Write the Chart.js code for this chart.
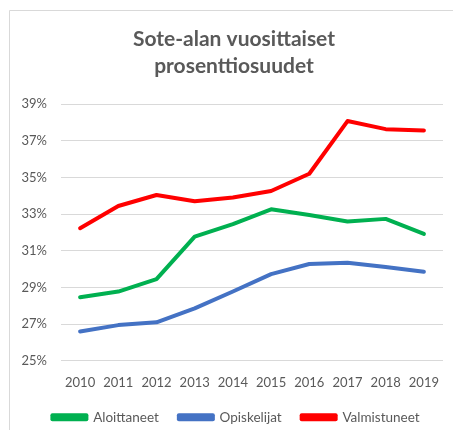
<!DOCTYPE html>
<html>
<head>
<meta charset="utf-8">
<script src="https://cdn.jsdelivr.net/npm/chart.js@4/dist/chart.umd.min.js"></script>
<style>
html,body{margin:0;padding:0;background:#fff;}
#wrap{position:relative;width:453px;height:430px;}
canvas{display:block;}
</style>
</head>
<body>
<div id="wrap"><canvas id="c" width="453" height="430"></canvas></div>
<script>
const categories = ['2010','2011','2012','2013','2014','2015','2016','2017','2018','2019'];
const aloittaneet = [28.47, 28.78, 29.46, 31.77, 32.45, 33.26, 32.95, 32.6, 32.74, 31.92];
const opiskelijat = [26.6, 26.95, 27.1, 27.86, 28.78, 29.73, 30.28, 30.35, 30.12, 29.86];
const valmistuneet = [32.23, 33.44, 34.04, 33.7, 33.9, 34.26, 35.2, 38.07, 37.63, 37.56];
const yTicks = [25, 27, 29, 31, 33, 35, 37, 39];
const titleLines = ['Sote-alan vuosittaiset', 'prosenttiosuudet'];

const borderPlugin = {
  id: 'frame',
  afterLayout(chart) {
    if (chart.titleBlock) { chart.titleBlock.left += 8; chart.titleBlock.right += 8; }
    if (chart.legend) { chart.legend.left += 10; chart.legend.right += 10; }
  },
  beforeDraw(chart) {
    const ctx = chart.ctx;
    ctx.save();
    ctx.fillStyle = '#ffffff';
    ctx.fillRect(0, 0, chart.width, chart.height);
    ctx.strokeStyle = '#d9d9d9';
    ctx.lineWidth = 1;
    ctx.beginPath();
    ctx.moveTo(9.5, chart.height);
    ctx.lineTo(9.5, 10.5);
    ctx.lineTo(chart.width, 10.5);
    ctx.stroke();
    ctx.restore();
  }
};

const FONT = 'Lato, "Open Sans", sans-serif';

new Chart(document.getElementById('c'), {
  type: 'line',
  data: {
    labels: categories,
    datasets: [
      { label: 'Aloittaneet', data: aloittaneet, borderColor: '#00b050', backgroundColor: '#00b050' },
      { label: 'Opiskelijat', data: opiskelijat, borderColor: '#4472c4', backgroundColor: '#4472c4' },
      { label: 'Valmistuneet', data: valmistuneet, borderColor: '#ff0000', backgroundColor: '#ff0000' }
    ].map(d => Object.assign(d, { borderWidth: 4, pointRadius: 0, tension: 0, fill: false, borderCapStyle: 'round', borderJoinStyle: 'round' }))
  },
  options: {
    responsive: false,
    animation: false,
    devicePixelRatio: 1,
    layout: { padding: { left: 9, right: 10, top: 0, bottom: -4 } },
    plugins: {
      title: {
        display: true,
        text: titleLines,
        color: '#595959',
        font: { family: FONT, size: 21, weight: 'bold', lineHeight: 1.286 },
        padding: { top: 26, bottom: 24 }
      },
      legend: {
        position: 'bottom',
        labels: {
          color: '#595959',
          font: { family: FONT, size: 13.5 },
          boxWidth: 34,
          boxHeight: 4,
          padding: 20
        }
      },
      tooltip: { enabled: false }
    },
    scales: {
      x: {
        offset: true,
        grid: { display: false },
        border: { display: false },
        afterFit(scale) { scale.height = scale.height - 6; },
        ticks: { color: '#595959', font: { family: FONT, size: 13 }, padding: 6, maxRotation: 0 }
      },
      y: {
        min: 25,
        max: 39,
        afterBuildTicks(scale) { scale.ticks = yTicks.map(v => ({ value: v })); },
        afterFit(scale) { scale.width = 52; },
        grid: { color: '#d9d9d9', lineWidth: 1, drawTicks: false },
        border: { display: false },
        ticks: { color: '#595959', font: { family: FONT, size: 13 }, padding: 14, callback: v => v + '%' }
      }
    }
  },
  plugins: [borderPlugin]
});
</script>
</body>
</html>
